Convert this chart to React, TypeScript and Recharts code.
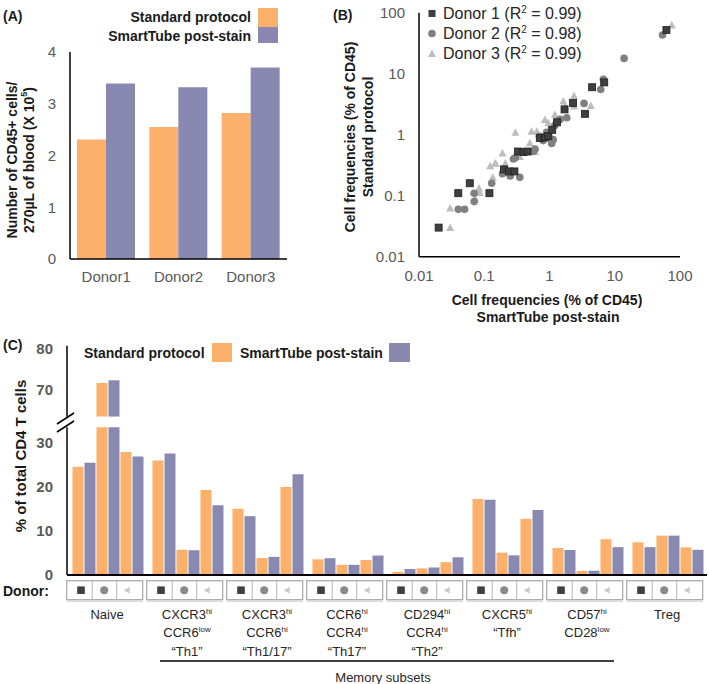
import React from 'react';
import { BarChart, Bar, XAxis, YAxis, ScatterChart, Scatter } from 'recharts';

const FONT = "'Liberation Sans', Arial, Helvetica, sans-serif";
const ORANGE = '#FDB06B';
const PURPLE = '#8988B0';
const TICK_GREY = '#595959';

// ---------- Panel A ----------
const aDonors = ['Donor1', 'Donor2', 'Donor3'];
const aStandard = [2.31, 2.55, 2.82];
const aSmartTube = [3.39, 3.32, 3.7];
const aTicks = [0, 1, 2, 3, 4];

// ---------- Panel B ----------
const bDonor1: number[][] = [
  [0.02, 0.03], [0.04, 0.11], [0.06, 0.16], [0.12, 0.11], [0.2, 0.27], [0.24, 0.25], [0.29, 0.25],
  [0.33, 0.53], [0.4, 0.52], [0.46, 0.53], [0.71, 0.88], [0.85, 0.9], [0.96, 0.95], [1.1, 1.2],
  [1.3, 1.6], [1.7, 2.6], [2.3, 3.3], [3.5, 2.2], [4.5, 6.0], [6.9, 7.2], [62, 52],
];
const bDonor2: number[][] = [
  [0.04, 0.06], [0.05, 0.06], [0.07, 0.11], [0.07, 0.08], [0.13, 0.16], [0.19, 0.23], [0.25, 0.21],
  [0.35, 0.2], [0.28, 0.4], [0.3, 0.42], [0.56, 0.53], [0.6, 0.58], [0.8, 0.8], [0.7, 0.94], [0.9, 1.1],
  [1.08, 0.72], [1.14, 0.83], [1.21, 1.42], [1.45, 1.78], [1.84, 1.9], [3.38, 3.26], [6.1, 5.5],
  [6.7, 8.1], [13.9, 17.8], [54, 43],
];
const bDonor3: number[][] = [
  [0.03, 0.03], [0.03, 0.063], [0.072, 0.091], [0.083, 0.134], [0.086, 0.113], [0.135, 0.2],
  [0.15, 0.34], [0.123, 0.31], [0.146, 0.34], [0.19, 0.5], [0.21, 0.34], [0.3, 1.1], [0.31, 0.47],
  [0.35, 0.44], [0.53, 1.14], [0.64, 1.14], [0.5, 0.74], [0.6, 0.53], [0.85, 1.78], [0.96, 1.57],
  [1.21, 2.15], [1.63, 3.56], [1.73, 2.95], [2.37, 4.4], [2.37, 2.95], [4.3, 3.0], [6.9, 7.8], [75, 63],
];
const bTicks = [0.01, 0.1, 1, 10, 100];
const bLegend = ['Donor 1', 'Donor 2', 'Donor 3'];
const bR2 = ['0.99', '0.98', '0.99'];

// ---------- Panel C ----------
const cGroups = ['Naive', 'Th1', 'Th1/17', 'Th17', 'Th2', 'Tfh', 'CD57', 'Treg'];
const cStdD1 = [24.5, 25.9, 15.0, 3.55, 0.7, 17.2, 6.1, 7.4];
const cSmtD1 = [25.4, 27.5, 13.3, 3.8, 1.35, 17.0, 5.65, 6.3];
const cStdD2 = [71.6, 5.7, 3.85, 2.3, 1.5, 5.05, 0.9, 8.9];
const cSmtD2 = [72.2, 5.6, 4.1, 2.3, 1.7, 4.45, 0.97, 8.9];
const cStdD3 = [27.8, 19.2, 19.9, 3.4, 2.9, 12.7, 8.1, 6.25];
const cSmtD3 = [26.8, 15.8, 22.8, 4.4, 4.0, 14.7, 6.3, 5.7];
const cLowTicks = [0, 10, 20, 30];
const cHighTicks = [70, 80];
const cLowMax = 33.4;
const cHighMin = 64;
const cLabelLines: string[][][] = [
  [['Naive', '']],
  [['CXCR3', 'hi'], ['CCR6', 'low'], ['\u201cTh1\u201d', '']],
  [['CXCR3', 'hi'], ['CCR6', 'hi'], ['\u201cTh1/17\u201d', '']],
  [['CCR6', 'hi'], ['CCR4', 'hi'], ['\u201cTh17\u201d', '']],
  [['CD294', 'hi'], ['CCR4', 'hi'], ['\u201cTh2\u201d', '']],
  [['CXCR5', 'hi'], ['\u201cTfh\u201d', '']],
  [['CD57', 'hi'], ['CD28', 'low']],
  [['Treg', '']],
];

const aData = aDonors.map((d, i) => ({ name: d, std: aStandard[i], smt: aSmartTube[i] }));
const toPts = (arr: number[][]) => arr.map(([x, y]) => ({ x, y }));
const cKeys = ['s1', 't1', 's2', 't2', 's3', 't3'];
const cSeries = [cStdD1, cSmtD1, cStdD2, cSmtD2, cStdD3, cSmtD3];
const cLowData = cGroups.map((g, i) => {
  const o: any = { group: g };
  cKeys.forEach((k, j) => (o[k] = cSeries[j][i]));
  return o;
});
const cHighData = cGroups.map((g, i) => {
  const o: any = { group: g };
  cKeys.forEach((k, j) => (o[k] = cSeries[j][i] > cHighMin ? cSeries[j][i] : null));
  return o;
});

const sqShape = (p: any) => (
  <rect x={p.cx - 3.5} y={p.cy - 3.5} width={7} height={7} fill="#3f3f3f" stroke="#1e1e1e" strokeWidth={0.8} />
);
const circShape = (p: any) => <circle cx={p.cx} cy={p.cy} r={3.8} fill="#808080" />;
const triShape = (p: any) => (
  <path d={`M${p.cx},${p.cy - 4} L${p.cx + 4},${p.cy + 3.5} L${p.cx - 4},${p.cy + 3.5} Z`} fill="#bdbdbd" />
);

const DonorTick = (props: any) => {
  const { x, y, payload } = props;
  const idx = cGroups.indexOf(payload.value);
  const lines = cLabelLines[idx] || [];
  const bx = x - 40.3;
  const by = y + 5.7;
  return (
    <g>
      <rect x={bx} y={by} width={76} height={19} fill="#fff" stroke="#a6a6a6" strokeWidth={1.2} />
      <line x1={bx} x2={bx + 76} y1={by + 20.5} y2={by + 20.5} stroke="#c8c8c8" strokeWidth={1} />
      <line x1={bx + 25.5} x2={bx + 25.5} y1={by} y2={by + 19} stroke="#b5b5b5" strokeWidth={1} />
      <line x1={bx + 50} x2={bx + 50} y1={by} y2={by + 19} stroke="#b5b5b5" strokeWidth={1} />
      <rect x={bx + 14.3 - 3.8} y={by + 9.5 - 3.8} width={7.6} height={7.6} fill="#404040" />
      <circle cx={bx + 37.5} cy={by + 9.5} r={4} fill="#8a8a8a" />
      <path d={`M${bx + 57},${by + 9.5} L${bx + 63},${by + 6} L${bx + 63},${by + 13} Z`} fill="#c8c8c8" />
      {lines.map((ln, k) => (
        <text key={k} x={x} y={y + 44 + k * 18.3} textAnchor="middle" fontSize={13} fill="#262626" fontFamily={FONT}>
          <tspan>{ln[0]}</tspan>
          {ln[1] ? <tspan fontSize={8} dy={-5}>{ln[1]}</tspan> : null}
        </text>
      ))}
    </g>
  );
};

const boldTick = { fill: TICK_GREY, fontSize: 15, fontWeight: 'bold', fontFamily: FONT };
const plainTick = { fill: TICK_GREY, fontSize: 15, fontFamily: FONT };

export default function App() {
  return (
    <div style={{ position: 'absolute', left: 0, top: 0, width: 709, height: 684, background: '#fff', fontFamily: FONT, overflow: 'hidden' }}>
      {/* Panel A */}
      <div style={{ position: 'absolute', left: 0, top: 0 }}>
        <BarChart width={300} height={300} data={aData} margin={{ top: 52, right: 13, left: 0, bottom: 0 }} barCategoryGap={7} barGap={0}>
          <XAxis dataKey="name" height={41} tickLine={false} tickSize={0} tickMargin={12} axisLine={{ stroke: '#000', strokeWidth: 1.5 }} tick={plainTick} />
          <YAxis domain={[0, 4]} ticks={aTicks} width={70} tickLine={false} tickSize={0} tickMargin={14} axisLine={{ stroke: '#000', strokeWidth: 1.5 }} tick={plainTick} />
          <Bar dataKey="std" fill={ORANGE} isAnimationActive={false} />
          <Bar dataKey="smt" fill={PURPLE} isAnimationActive={false} />
        </BarChart>
      </div>

      {/* Panel B */}
      <div style={{ position: 'absolute', left: 300, top: 0 }}>
        <ScatterChart width={409} height={330} margin={{ top: 12.7, right: 29, left: 0, bottom: 0 }}>
          <XAxis type="number" dataKey="x" scale="log" domain={[0.01, 100]} ticks={bTicks} allowDataOverflow height={73.3}
            tickLine={false} tickSize={0} tickMargin={14} axisLine={{ stroke: '#000', strokeWidth: 1.5 }} tick={plainTick}
            tickFormatter={(v: number) => String(v)} />
          <YAxis type="number" dataKey="y" scale="log" domain={[0.01, 100]} ticks={bTicks} allowDataOverflow width={119}
            tickLine={false} tickSize={0} tickMargin={14} axisLine={{ stroke: '#000', strokeWidth: 1.5 }} tick={plainTick}
            tickFormatter={(v: number) => String(v)} />
          <Scatter data={toPts(bDonor3)} shape={triShape} isAnimationActive={false} />
          <Scatter data={toPts(bDonor2)} shape={circShape} isAnimationActive={false} />
          <Scatter data={toPts(bDonor1)} shape={sqShape} isAnimationActive={false} />
        </ScatterChart>
      </div>

      {/* Panel C - upper segment */}
      <div style={{ position: 'absolute', left: 0, top: 340 }}>
        <BarChart width={709} height={80} data={cHighData} margin={{ top: 5.7, right: 2, left: 0, bottom: 3.3 }} barCategoryGap={5.5} barGap={1}>
          <XAxis dataKey="group" hide height={0} />
          <YAxis domain={[cHighMin, 80]} ticks={cHighTicks} allowDataOverflow width={67} tickLine={false} tickSize={0} tickMargin={14}
            axisLine={{ stroke: '#000', strokeWidth: 1.5 }} tick={boldTick} />
          {cKeys.map((k, j) => (
            <Bar key={k} dataKey={k} fill={j % 2 === 0 ? ORANGE : PURPLE} isAnimationActive={false} />
          ))}
        </BarChart>
      </div>

      {/* Panel C - lower segment */}
      <div style={{ position: 'absolute', left: 0, top: 420 }}>
        <BarChart width={709} height={264} data={cLowData} margin={{ top: 7.3, right: 2, left: 0, bottom: 0 }} barCategoryGap={5.5} barGap={1}>
          <XAxis dataKey="group" height={109} interval={0} tickLine={false} tickSize={0} tickMargin={0}
            axisLine={{ stroke: '#000', strokeWidth: 2 }} tick={(p: any) => <DonorTick {...p} />} />
          <YAxis domain={[0, cLowMax]} ticks={cLowTicks} allowDataOverflow width={67} tickLine={false} tickSize={0} tickMargin={14}
            axisLine={{ stroke: '#000', strokeWidth: 1.5 }} tick={boldTick} />
          {cKeys.map((k, j) => (
            <Bar key={k} dataKey={k} fill={j % 2 === 0 ? ORANGE : PURPLE} isAnimationActive={false} />
          ))}
        </BarChart>
      </div>

      {/* Annotations */}
      <svg width={709} height={684} style={{ position: 'absolute', left: 0, top: 0, pointerEvents: 'none' }} fontFamily={FONT}>
        {/* Panel A */}
        <text x={3} y={21} fontSize={14} fontWeight="bold" fill="#1a1a1a">(A)</text>
        <text x={251} y={22} fontSize={14} fontWeight="bold" fill="#1a1a1a" textAnchor="end">Standard protocol</text>
        <text x={251} y={40.5} fontSize={14} fontWeight="bold" fill="#1a1a1a" textAnchor="end">SmartTube post-stain</text>
        <rect x={258} y={8} width={20} height={19} fill={ORANGE} />
        <rect x={258} y={27} width={20} height={16} fill={PURPLE} />
        <text transform="translate(12,160) rotate(-90)" fontSize={14} fontWeight="bold" fill="#1a1a1a" textAnchor="middle" dominantBaseline="central">Number of CD45+ cells/</text>
        <text transform="translate(29,160) rotate(-90)" fontSize={14} fontWeight="bold" fill="#1a1a1a" textAnchor="middle" dominantBaseline="central">
          <tspan>270µL of blood (X 10</tspan><tspan fontSize={9} dy={-5}>5</tspan><tspan dy={5}>)</tspan>
        </text>

        {/* Panel B */}
        <text x={333} y={20} fontSize={14} fontWeight="bold" fill="#1a1a1a">(B)</text>
        <rect x={428.5} y={10} width={7} height={7} fill="#3f3f3f" />
        <circle cx={432} cy={33.5} r={3.8} fill="#808080" />
        <path d="M432,49.5 L436,57 L428,57 Z" fill="#bdbdbd" />
        {bLegend.map((d, i) => (
          <text key={d} x={443} y={18.5 + i * 20} fontSize={16} fill="#262626">
            <tspan>{d} (R</tspan><tspan fontSize={10} dy={-6}>2</tspan><tspan dy={6}> = {bR2[i]})</tspan>
          </text>
        ))}
        <text x={547} y={305} fontSize={14} fontWeight="bold" fill="#1a1a1a" textAnchor="middle">Cell frequencies (% of CD45)</text>
        <text x={548} y={322} fontSize={14} fontWeight="bold" fill="#1a1a1a" textAnchor="middle">SmartTube post-stain</text>
        <text transform="translate(350,137) rotate(-90)" fontSize={14} fontWeight="bold" fill="#1a1a1a" textAnchor="middle" dominantBaseline="central">Cell frequencies (% of CD45)</text>
        <text transform="translate(368,137) rotate(-90)" fontSize={14} fontWeight="bold" fill="#1a1a1a" textAnchor="middle" dominantBaseline="central">Standard protocol</text>

        {/* Panel C */}
        <text x={3} y={350} fontSize={14} fontWeight="bold" fill="#1a1a1a">(C)</text>
        <text x={84} y={358} fontSize={14} fontWeight="bold" fill="#1a1a1a">Standard protocol</text>
        <rect x={212} y={343} width={20} height={19} fill={ORANGE} />
        <text x={240} y={358} fontSize={14} fontWeight="bold" fill="#1a1a1a">SmartTube post-stain</text>
        <rect x={389} y={343} width={21} height={19} fill={PURPLE} />
        <text transform="translate(20,456) rotate(-90)" fontSize={15} fontWeight="bold" fill="#1a1a1a" textAnchor="middle" dominantBaseline="central">% of total CD4 T cells</text>
        <rect x={60} y={417} width={14} height={10} fill="#fff" />
        <line x1={57} y1={424} x2={74} y2={413} stroke="#000" strokeWidth={1.5} />
        <line x1={57} y1={432} x2={74} y2={421} stroke="#000" strokeWidth={1.5} />
        <text x={3} y={596} fontSize={14} fontWeight="bold" fill="#1a1a1a">Donor:</text>
        <line x1={160} y1={661} x2={614} y2={661} stroke="#000" strokeWidth={1.5} />
        <text x={383} y={682} fontSize={13} fill="#262626" textAnchor="middle">Memory subsets</text>
      </svg>
    </div>
  );
}
